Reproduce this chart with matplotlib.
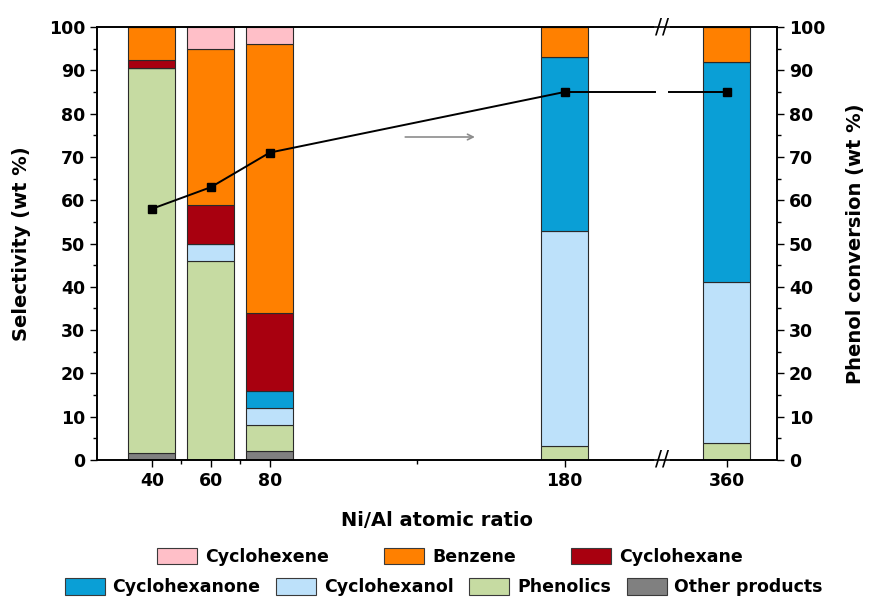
import numpy as np
import matplotlib
matplotlib.use('Agg')
from matplotlib import pyplot as plt
from matplotlib.patches import Patch
import matplotlib.transforms as mtransforms

# Ni/Al ratio and selectivity (wt %) of each product, stacked bottom -> top
ratios = [40, 60, 80, 180, 360]
other = [1.5, 0, 2, 0, 0]
phenolics = [89, 46, 6, 3.3, 4]
cyclohexanol = [0, 4, 4, 49.7, 37]
cyclohexanone = [0, 0, 4, 40, 51]
cyclohexane = [2, 9, 18, 0, 0]
benzene = [7.5, 36, 62, 7, 8]
cyclohexene = [0, 5, 4, 0, 0]

# phenol conversion (wt %)
conversion = [58, 63, 71, 85, 85]

xtick_labels = ['40', '60', '80', '180', '360']
minor_x = [50, 70, 130]

names = ['Other products', 'Phenolics', 'Cyclohexanol', 'Cyclohexanone',
         'Cyclohexane', 'Benzene', 'Cyclohexene']
series = [other, phenolics, cyclohexanol, cyclohexanone, cyclohexane, benzene, cyclohexene]
colors = ['#808080', '#C6DBA2', '#BDE1FA', '#0A9FD6', '#A8000F', '#FF8000', '#FFBFC8']

# broken x axis: everything between BRK_LO and BRK_HI is squeezed out
BRK_LO, BRK_HI = 213, 338
SHIFT = BRK_HI - BRK_LO

def fwd(x):
  x = np.asarray(x, dtype=float)
  return np.where(x <= BRK_LO, x, np.where(x >= BRK_HI, x - SHIFT, BRK_LO))

def inv(t):
  t = np.asarray(t, dtype=float)
  return np.where(t <= BRK_LO, t, t + SHIFT)

plt.rcParams['font.family'] = 'DejaVu Sans'
plt.rcParams['font.weight'] = 'bold'

fig = plt.figure(figsize=(8.72, 5.98), dpi=100)
ax = fig.add_axes([0.1112, 0.2308, 0.7798, 0.724])
ax.set_xscale('function', functions=(fwd, inv))

bottom = np.zeros(len(ratios))
for vals, c in zip(series, colors):
  ax.bar(ratios, vals, width=16, bottom=bottom, color=c,
         edgecolor='#2a2a2a', linewidth=0.8, zorder=2)
  bottom = bottom + np.array(vals)

ax.set_xlim(21.4, 377)
ax.set_ylim(0, 100)
ax.set_xticks(ratios)
ax.set_xticklabels(xtick_labels)
ax.set_xticks(minor_x, minor=True)
ax.set_yticks(np.arange(0, 101, 10))
ax.set_yticks(np.arange(0, 101, 5), minor=True)
ax.tick_params(axis='both', which='major', labelsize=12.5, length=5, width=1, direction='out')
ax.tick_params(axis='both', which='minor', length=3, width=1, direction='out')
ax.set_xlabel('Ni/Al atomic ratio', fontsize=14, fontweight='bold', labelpad=15)
ax.set_ylabel('Selectivity (wt %)', fontsize=14, fontweight='bold', labelpad=13)

ax2 = ax.twinx()
ax2.set_ylim(0, 100)
ax2.set_yticks(np.arange(0, 101, 10))
ax2.set_yticks(np.arange(0, 101, 5), minor=True)
ax2.tick_params(axis='y', which='major', labelsize=12.5, length=5, width=1, direction='out')
ax2.tick_params(axis='y', which='minor', length=3, width=1, direction='out')
ax2.set_ylabel('Phenol conversion (wt %)', fontsize=14, fontweight='bold', labelpad=15)

for a in (ax, ax2):
  for s in a.spines.values():
    s.set_linewidth(1.2)

# conversion line, with a gap where the axis is broken
ax2.plot(ratios[:4], conversion[:4], color='black', lw=1.4)
gap = 2.4
y_gap = np.interp([BRK_LO - gap, BRK_LO + gap], [fwd(180), fwd(360)], [conversion[3], conversion[4]])
ax2.plot([180, BRK_LO - gap], [conversion[3], y_gap[0]], color='black', lw=1.4)
ax2.plot([BRK_HI + gap, 360], [y_gap[1], conversion[4]], color='black', lw=1.4)
ax2.plot(ratios, conversion, 's', color='black', ms=5.5)

# arrow pointing to the right axis
ax2.annotate('', xy=(150.5, 74.6), xytext=(125, 74.6),
             arrowprops=dict(arrowstyle='->', color='#8c8c8c', lw=1.2))

# break marks
trans = mtransforms.blended_transform_factory(ax.transData, ax.transAxes)
for yy in (0, 1):
  ax.text(BRK_LO, yy, '//', transform=trans, ha='center', va='center',
          fontsize=15, fontweight='normal', clip_on=False,
          bbox=dict(facecolor='white', edgecolor='none', pad=0.5), zorder=5)

# legend in two rows
def handles(idx):
  return [Patch(facecolor=colors[i], edgecolor='#3a3a3a', linewidth=0.8, label=names[i]) for i in idx]

leg_kw = dict(frameon=False, fontsize=12.5, handlelength=2.3, handleheight=1.1,
              handletextpad=0.45, borderpad=0, borderaxespad=0, loc='center')
fig.legend(handles=handles([6, 5, 4]), ncol=3, columnspacing=3.2,
           bbox_to_anchor=(0.516, 0.069), **leg_kw)
fig.legend(handles=handles([3, 2, 1, 0]), ncol=4, columnspacing=0.9,
           bbox_to_anchor=(0.509, 0.018), **leg_kw)

fig.savefig('out.png', dpi=100)
